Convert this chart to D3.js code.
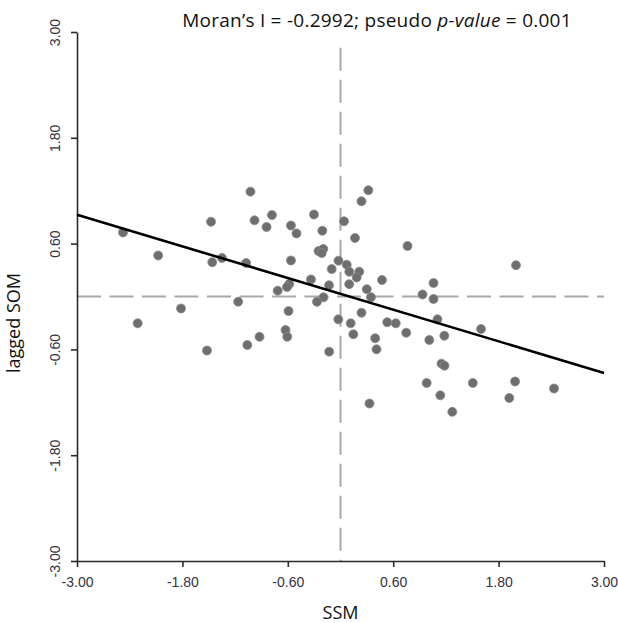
<!DOCTYPE html>
<html>
<head>
<meta charset="utf-8">
<script src="https://d3js.org/d3.v7.min.js"></script>
<style>
  body { margin: 0; background: #fff; }
  svg { display: block; }
</style>
</head>
<body>
<svg id="canvas" width="618" height="623"></svg>
<script>
// SSM (standardised) vs spatially lagged SOM
let ssm = [-1.025, -1.474, -0.979, -0.780, -0.842, -0.564, -0.501, -0.302, -0.207, 0.040,
           0.239, 0.317, 0.165, 0.763, -0.250, -0.196, -0.214, -2.476, -2.076, -1.460,
           -1.349, -1.074, -0.564, -0.023, -0.100, 0.071, 0.100, 0.213, 0.184, -0.336,
           0.473, -0.583, -0.609, -0.715, -0.131, 0.099, 0.299, 0.347, -0.194, -0.268,
           -1.165, -1.816, -2.309, -0.592, 1.059, 0.934, 1.059, 1.998, -1.520, -1.061,
           -0.922, -0.626, -0.606, -0.025, -0.129, 0.116, 0.146, 0.239, 0.395, 0.410,
           0.532, 0.629, 0.748, 1.104, 1.011, 1.182, 1.150, 1.184, 1.600, 0.981,
           1.506, 1.987, 1.136, 1.922, 2.431, 0.330, 1.273]
let laggedSom = [1.189, 0.848, 0.864, 0.924, 0.788, 0.805, 0.715, 0.930, 0.746, 0.853,
           1.080, 1.205, 0.664, 0.573, 0.516, 0.539, 0.493, 0.726, 0.465, 0.389,
           0.437, 0.380, 0.408, 0.406, 0.312, 0.361, 0.281, 0.281, 0.216, 0.193,
           0.187, 0.142, 0.108, 0.066, 0.127, 0.140, 0.083, -0.008, -0.009, -0.060,
           -0.059, -0.136, -0.304, -0.165, 0.153, 0.023, -0.028, 0.355, -0.613, -0.550,
           -0.457, -0.380, -0.457, -0.259, -0.626, -0.304, -0.428, -0.184, -0.474, -0.599,
           -0.292, -0.304, -0.411, -0.259, -0.493, -0.445, -0.762, -0.785, -0.369, -0.981,
           -0.981, -0.964, -1.121, -1.151, -1.044, -1.214, -1.308]

let tickVals = [-3.00, -1.80, -0.60, 0.60, 1.80, 3.00]
let moransI = -0.2992
let intercept = 0.03
let refTop = 2.82

let canvas = d3.select('#canvas')

let x = d3.scaleLinear().domain([-3, 3]).range([77, 604])
let y = d3.scaleLinear().domain([-3, 3]).range([561, 32])
// plain hyphen for negatives, like the original
let fmt = function(v) { return v.toFixed(2) }

// quadrant lines
canvas.append('line')
    .attr('x1', x(0)).attr('x2', x(0))
    .attr('y1', y(refTop)).attr('y2', y(-3))
    .attr('stroke', '#a8a8a8').attr('stroke-width', 2)
    .attr('stroke-dasharray', '23,9')
canvas.append('line')
    .attr('x1', x(-3)).attr('x2', x(3))
    .attr('y1', y(0)).attr('y2', y(0))
    .attr('stroke', '#a8a8a8').attr('stroke-width', 2)
    .attr('stroke-dasharray', '24,8.5')

// axes
let xAxis = canvas.append('g')
    .attr('transform', 'translate(0,' + y(-3) + ')')
    .call(d3.axisBottom(x).tickValues(tickVals).tickFormat(fmt).tickSize(6).tickSizeOuter(0))
let yAxis = canvas.append('g')
    .attr('transform', 'translate(' + x(-3) + ',0)')
    .call(d3.axisLeft(y).tickValues(tickVals).tickFormat(fmt).tickSize(6).tickSizeOuter(0))

canvas.selectAll('.domain, .tick line')
    .attr('stroke', '#2a2a2a').attr('stroke-width', 1.6)
canvas.selectAll('.tick text')
    .attr('fill', '#33333f')
    .style('font-family', 'Liberation Sans, Arial, sans-serif')
    .style('font-size', '14px')
xAxis.selectAll('.tick text').attr('y', 0).attr('dy', null)
    .attr('transform', 'translate(0,26)')
yAxis.selectAll('.tick text')
    .attr('x', 0).attr('dy', null)
    .attr('text-anchor', 'middle')
    .attr('transform', 'translate(-17,0) rotate(-90)')

// points
let pts = ssm.map(function(d, i) { return {x: d, y: laggedSom[i]} })
canvas.selectAll('circle')
    .data(pts)
    .enter()
    .append('circle')
    .attr('cx', function(d) { return x(d.x) })
    .attr('cy', function(d) { return y(d.y) })
    .attr('r', 4.5)
    .attr('fill', '#6e6e6e')
    .attr('stroke', '#8a8a8a')
    .attr('stroke-width', 0.8)

// fitted line
canvas.append('line')
    .attr('x1', x(-3)).attr('y1', y(intercept + moransI * -3))
    .attr('x2', x(3)).attr('y2', y(intercept + moransI * 3))
    .attr('stroke', '#000').attr('stroke-width', 2.6)

// labels
let title = canvas.append('text')
    .attr('x', 377).attr('y', 27)
    .attr('text-anchor', 'middle')
    .style('font-family', 'Open Sans, sans-serif')
    .style('font-size', '19px')
    .style('letter-spacing', '0.25px')
    .attr('fill', '#111')
title.append('tspan').text('Moran\u2019s I = ' + moransI.toFixed(4) + '; pseudo ')
title.append('tspan').style('font-style', 'italic').text('p-value')
title.append('tspan').text(' = 0.001')

canvas.append('text')
    .attr('x', x(0)).attr('y', 619)
    .attr('text-anchor', 'middle')
    .style('font-family', 'Open Sans, sans-serif')
    .style('font-size', '18px')
    .attr('fill', '#111')
    .text('SSM')

canvas.append('text')
    .attr('transform', 'translate(20,323) rotate(-90)')
    .attr('text-anchor', 'middle')
    .style('font-family', 'Open Sans, sans-serif')
    .style('font-size', '18px')
    .attr('fill', '#111')
    .text('lagged SOM')
</script>
</body>
</html>
